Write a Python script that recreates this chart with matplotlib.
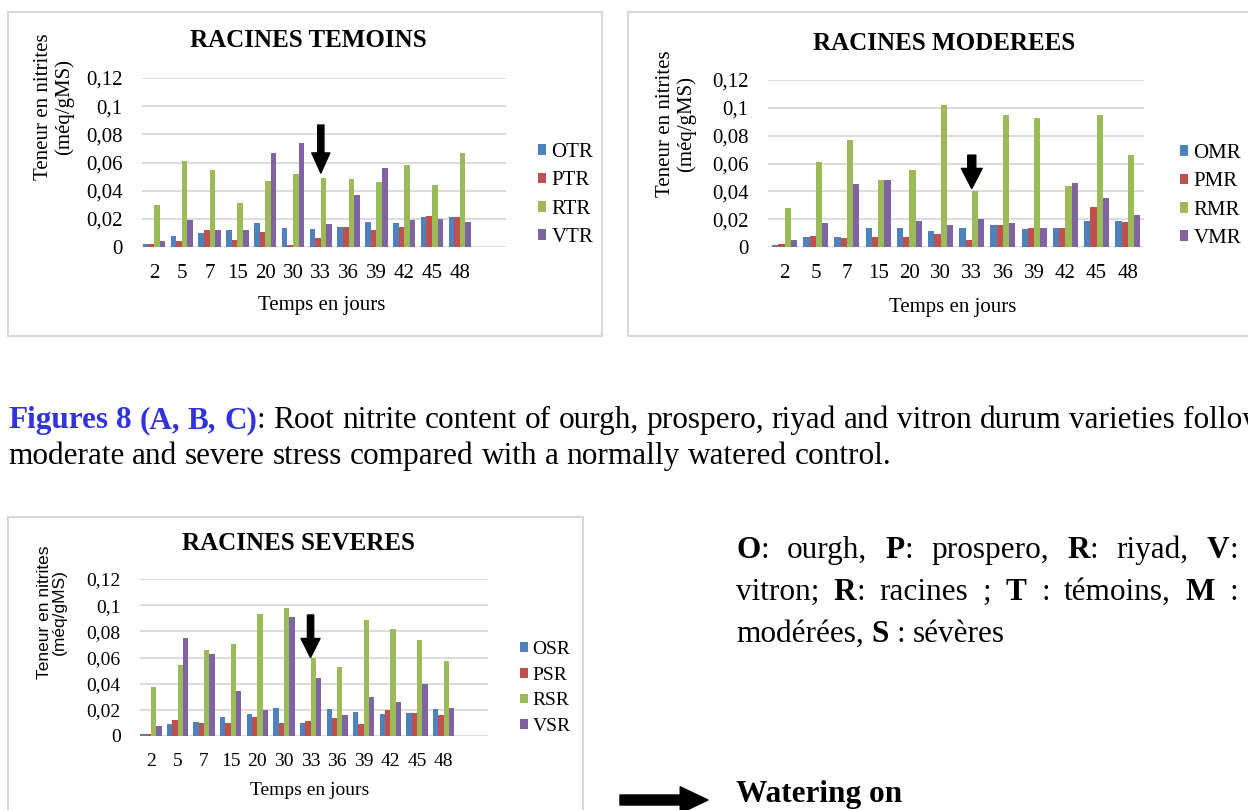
import numpy as np
import matplotlib
matplotlib.use("Agg")
import matplotlib.pyplot as plt
from matplotlib.patches import Rectangle

plt.rcParams['font.family'] = ['Liberation Serif', 'DejaVu Serif']

jours = ['2', '5', '7', '15', '20', '30', '33', '36', '39', '42', '45', '48']
graduations = ['0', '0,02', '0,04', '0,06', '0,08', '0,1', '0,12']

# racines témoins
OTR = [0.0024, 0.0076, 0.010, 0.012, 0.017, 0.0136, 0.013, 0.014, 0.018, 0.017, 0.021, 0.021]
PTR = [0.0024, 0.0045, 0.012, 0.005, 0.0105, 0.0017, 0.0064, 0.014, 0.012, 0.014, 0.022, 0.021]
RTR = [0.030, 0.061, 0.055, 0.031, 0.047, 0.052, 0.049, 0.048, 0.046, 0.058, 0.044, 0.067]
VTR = [0.004, 0.019, 0.012, 0.012, 0.067, 0.074, 0.016, 0.037, 0.056, 0.019, 0.020, 0.018]

# racines stress modéré
OMR = [0.0015, 0.007, 0.007, 0.0135, 0.0137, 0.0113, 0.0137, 0.016, 0.013, 0.0137, 0.0185, 0.019]
PMR = [0.002, 0.008, 0.0065, 0.007, 0.007, 0.009, 0.005, 0.016, 0.0137, 0.0137, 0.029, 0.018]
RMR = [0.028, 0.061, 0.077, 0.048, 0.055, 0.102, 0.040, 0.095, 0.093, 0.044, 0.095, 0.066]
VMR = [0.005, 0.017, 0.045, 0.048, 0.019, 0.016, 0.020, 0.017, 0.0137, 0.046, 0.035, 0.023]

# racines stress sévère
OSR = [0.0013, 0.009, 0.011, 0.0148, 0.0166, 0.0217, 0.010, 0.021, 0.018, 0.017, 0.0176, 0.021]
PSR = [0.0018, 0.0125, 0.0097, 0.010, 0.0146, 0.0097, 0.0115, 0.014, 0.009, 0.020, 0.0174, 0.016]
RSR = [0.0375, 0.054, 0.066, 0.070, 0.093, 0.098, 0.060, 0.053, 0.089, 0.082, 0.073, 0.057]
VSR = [0.008, 0.075, 0.0625, 0.0345, 0.020, 0.091, 0.0447, 0.016, 0.030, 0.026, 0.040, 0.0217]

couleurs = ['#4F81BD', '#C0504D', '#9BBB59', '#8064A2']
gris = '#d9d9d9'

W, H = 1248, 810
fig = plt.figure(figsize=(W / 100, H / 100), dpi=100)
renderer = fig.canvas.get_renderer()


def fx(px):
    return px / W


def fy(py):
    return 1 - py / H


def panneau(cadre, zone, xlim, series, noms, titre, pos_titre, pos_ylab, pos_xlab,
            pos_leg, fleche, fs=15, ylab_font=None, ylab_fs=15):
    x0, y0, x1, y1 = cadre
    fig.add_artist(Rectangle((fx(x0), fy(y1)), (x1 - x0) / W, (y1 - y0) / H,
                             transform=fig.transFigure, fill=False, ec=gris, lw=1.5))
    l, t, r, b = zone
    ax = fig.add_axes([fx(l), fy(b), (r - l) / W, (b - t) / H])
    x = np.arange(len(jours))
    w = 0.2
    for k, (vals, nom) in enumerate(zip(series, noms)):
        ax.bar(x + (k - 1.5) * w, vals, w, color=couleurs[k], label=nom, zorder=3)
    ax.set_xlim(*xlim)
    ax.set_ylim(0, 0.12)
    ax.set_yticks(np.linspace(0, 0.12, 7))
    ax.set_yticklabels(graduations)
    ax.set_xticks(x)
    ax.set_xticklabels(jours)
    ax.grid(axis='y', color=gris, lw=1.3, zorder=0)
    for s in ax.spines.values():
        s.set_visible(False)
    ax.tick_params(axis='y', length=0, labelsize=fs, pad=14)
    ax.tick_params(axis='x', length=0, labelsize=fs, pad=12)

    fig.text(fx(pos_titre[0]), fy(pos_titre[1]), titre, ha='center', va='baseline',
             fontsize=18, weight='bold')
    kw = {}
    if ylab_font:
        kw['family'] = ylab_font
    fig.text(fx(pos_ylab[0]), fy(pos_ylab[1]), 'Teneur en nitrites\n(méq/gMS)',
             rotation=90, ha='center', va='center', multialignment='center',
             linespacing=1.05, fontsize=ylab_fs, **kw)
    fig.text(fx(pos_xlab[0]), fy(pos_xlab[1]), 'Temps en jours', ha='center',
             va='baseline', fontsize=fs)

    ax.legend(loc='center left', bbox_to_anchor=(fx(pos_leg[0]), fy(pos_leg[1])),
              bbox_transform=fig.transFigure, frameon=False, fontsize=fs,
              handlelength=0.4, handleheight=0.4, handletextpad=0.25,
              labelspacing=0.45, borderpad=0, borderaxespad=0)

    pointe, haut, hw, hl, tw = fleche
    ax.annotate('', xy=(6, pointe), xytext=(6, haut),
                arrowprops=dict(arrowstyle=f'simple,head_length={hl},head_width={hw},tail_width={tw}',
                                color='black', shrinkA=0, shrinkB=0, mutation_scale=10),
                zorder=6)
    return ax


panneau((8, 12, 602, 336), (142, 78, 506, 247), (-0.43, 12.66),
        [OTR, PTR, RTR, VTR], ['OTR', 'PTR', 'RTR', 'VTR'], 'RACINES TEMOINS',
        (308, 47), (54, 107), (322, 310), (538, 195),
        (0.0525, 0.0866, 1.3, 1.45, 0.45))

panneau((628, 12, 1260, 336), (768, 80, 1144, 247), (-0.53, 11.52),
        [OMR, PMR, RMR, VMR], ['OMR', 'PMR', 'RMR', 'VMR'], 'RACINES MODEREES',
        (944, 50), (676, 124), (953, 312), (1180, 196),
        (0.042, 0.066, 1.5, 1.45, 0.58))

ax3 = panneau((8, 517, 583, 830), (140, 579, 488, 736), (-0.41, 12.67),
              [OSR, PSR, RSR, VSR], ['OSR', 'PSR', 'RSR', 'VSR'], 'RACINES SEVERES',
              (298, 550), (52, 612), (310, 795), (520, 688),
              (0.060, 0.0925, 1.37, 1.37, 0.45), fs=14,
              ylab_font=['Liberation Sans', 'DejaVu Sans'], ylab_fs=12.5)


def texte_riche(x0, base, ligne, size, x1=None, couleur_gras='black'):
    # découpe en mots, chaque mot étant une suite de morceaux (texte, gras)
    runs = ligne.split('**')
    mots = [[]]
    for i, run in enumerate(runs):
        gras = i % 2 == 1
        for j, p in enumerate(run.split(' ')):
            if j > 0:
                mots.append([])
            if p:
                mots[-1].append((p, gras))
    mots = [m for m in mots if m]

    objets = []
    largeurs = []
    for mot in mots:
        objs = []
        for p, gras in mot:
            t = fig.text(0, fy(base), p, fontsize=size, va='baseline',
                         weight='bold' if gras else 'normal',
                         color=couleur_gras if gras else 'black')
            objs.append((t, t.get_window_extent(renderer).width))
        objets.append(objs)
        largeurs.append(sum(wd for _, wd in objs))

    espace = size * 100 / 72 * 0.25
    if x1 is not None and len(mots) > 1:
        espace = (x1 - x0 - sum(largeurs)) / (len(mots) - 1)
    x = x0
    for objs in objets:
        for t, wd in objs:
            t.set_x(fx(x))
            x += wd
        x += espace


taille = 22.5
texte_riche(8, 428, '**Figures 8 (A, B, C)**: Root nitrite content of ourgh, prospero, riyad '
            'and vitron durum varieties following', taille, couleur_gras='#3333dd')
texte_riche(8, 464, 'moderate and severe stress compared with a normally watered control.', taille)

texte_riche(736, 558, '**O**: ourgh, **P**: prospero, **R**: riyad, **V**:', taille, x1=1238)
texte_riche(736, 600, 'vitron; **R**: racines ; **T** : témoins, **M** :', taille, x1=1238)
texte_riche(736, 642, 'modérées, **S** : sévères', taille)

fig.text(fx(736), fy(802), 'Watering on', fontsize=taille, weight='bold', va='baseline')
ax3.annotate('', xy=(708, H - 800), xycoords='figure pixels', xytext=(620, H - 800),
             textcoords='figure pixels', annotation_clip=False,
             arrowprops=dict(arrowstyle='simple,head_length=2.0,head_width=1.9,tail_width=0.72',
                             color='black', shrinkA=0, shrinkB=0, mutation_scale=10))

fig.savefig('out.png', dpi=100)
